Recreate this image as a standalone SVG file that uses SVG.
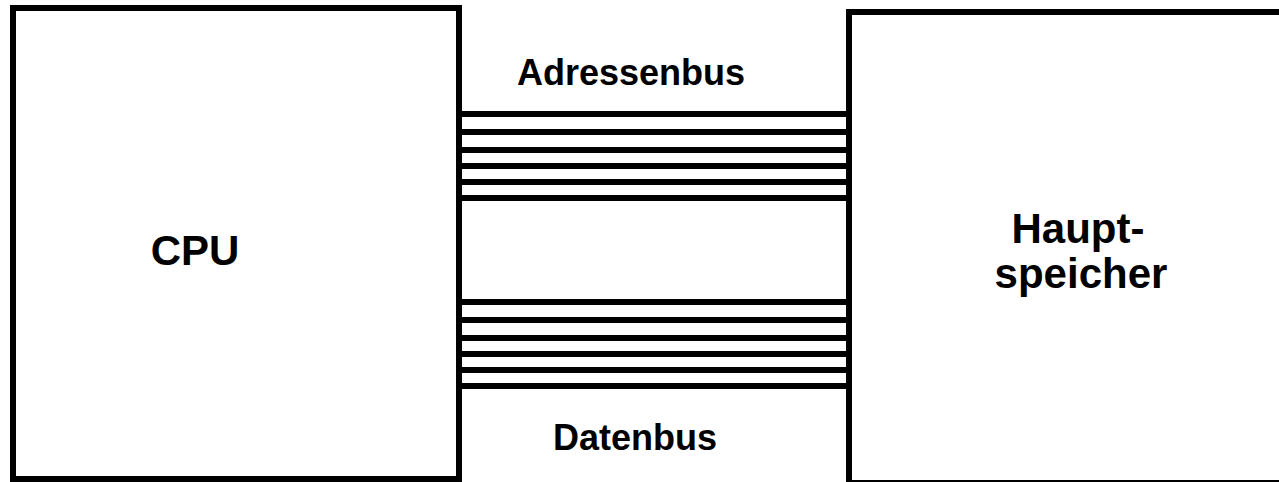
<svg xmlns="http://www.w3.org/2000/svg" width="1279" height="482" viewBox="0 0 1279 482">
  <style>
    .box { fill: #fff; stroke: #000; stroke-width: 6; }
    .bus { stroke: #000; stroke-width: 6; fill: none; }
    .lbl { font-family: "Liberation Sans", Arial, sans-serif; font-weight: bold; font-size: 36px; fill: #000; text-anchor: middle; }
    .big { font-size: 42px; }
  </style>
  <rect width="1279" height="482" fill="#fff"/>

  <!-- bus lines between processor and memory -->
  <g id="connectors">
    <g id="adressenbus-lines">
      <line class="bus" x1="459" y1="114" x2="849" y2="114"/>
      <line class="bus" x1="459" y1="132" x2="849" y2="132"/>
      <line class="bus" x1="459" y1="150" x2="849" y2="150"/>
      <line class="bus" x1="459" y1="166" x2="849" y2="166"/>
      <line class="bus" x1="459" y1="182" x2="849" y2="182"/>
      <line class="bus" x1="459" y1="198" x2="849" y2="198"/>
    </g>
    <g id="datenbus-lines">
      <line class="bus" x1="459" y1="302" x2="849" y2="302"/>
      <line class="bus" x1="459" y1="320" x2="849" y2="320"/>
      <line class="bus" x1="459" y1="338" x2="849" y2="338"/>
      <line class="bus" x1="459" y1="354" x2="849" y2="354"/>
      <line class="bus" x1="459" y1="370" x2="849" y2="370"/>
      <line class="bus" x1="459" y1="386" x2="849" y2="386"/>
    </g>
    <text class="lbl" x="631" y="85">Adressenbus</text>
    <text class="lbl" x="635" y="450">Datenbus</text>
  </g>

  <g id="cpu">
    <rect class="box" x="13" y="8" width="446" height="471"/>
    <text class="lbl big" x="195" y="265">CPU</text>
  </g>

  <g id="hauptspeicher">
    <rect class="box" x="849" y="12" width="440" height="471"/>
    <text class="lbl big" x="1078" y="243">Haupt-</text>
    <text class="lbl big" x="1081" y="288">speicher</text>
  </g>
</svg>
